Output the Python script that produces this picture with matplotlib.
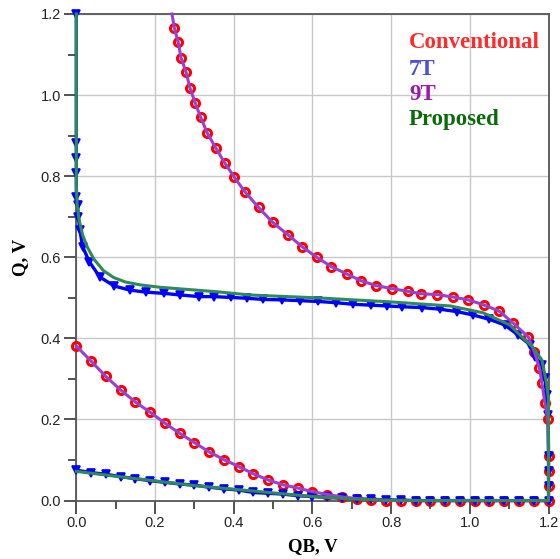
import matplotlib
matplotlib.use("Agg")
import matplotlib.pyplot as plt
from matplotlib.ticker import MultipleLocator

# ---------------- data ----------------
# Conventional (red circles) – butterfly path: lower curve then upper curve
conv_x = [0.0, 0.0375, 0.075, 0.1125, 0.15, 0.1875, 0.225, 0.2625, 0.30, 0.3375,
          0.375, 0.4125, 0.45, 0.4875, 0.525, 0.5625, 0.60, 0.6375, 0.675, 0.7125,
          0.75, 0.7875, 0.825, 0.8625, 0.90, 0.9375, 0.975, 1.0125, 1.05, 1.0875,
          1.125, 1.1625, 1.2,
          1.2, 1.2, 1.2, 1.198,
          1.191, 1.183, 1.177, 1.164, 1.149, 1.111, 1.075, 1.037, 0.996, 0.957,
          0.917, 0.877, 0.842, 0.801, 0.762, 0.724, 0.687, 0.648, 0.611, 0.574,
          0.537, 0.499, 0.463, 0.428, 0.401, 0.377, 0.354, 0.333, 0.316, 0.302,
          0.289, 0.279, 0.266, 0.259, 0.249, 0.243]
conv_y = [0.381, 0.344, 0.306, 0.273, 0.243, 0.218, 0.191, 0.166, 0.143, 0.120,
          0.101, 0.084, 0.066, 0.051, 0.039, 0.031, 0.022, 0.015, 0.009, 0.005,
          0.002, 0.0, 0.0, 0.0, 0.0, 0.0, 0.0, 0.0, 0.0, 0.0,
          0.0, 0.0, 0.0,
          0.037, 0.074, 0.111, 0.200,
          0.240, 0.291, 0.326, 0.367, 0.403, 0.437, 0.467, 0.482, 0.495, 0.502,
          0.508, 0.510, 0.516, 0.523, 0.530, 0.542, 0.559, 0.577, 0.600, 0.626,
          0.656, 0.686, 0.723, 0.762, 0.798, 0.833, 0.870, 0.906, 0.945, 0.981,
          1.017, 1.056, 1.092, 1.130, 1.166, 1.200]

# 9T (purple line) – coincides with the conventional cell
t9_x = list(conv_x)
t9_y = list(conv_y)

# 7T (blue triangles)
t7_x = [0.0, 0.0375, 0.075, 0.1125, 0.15, 0.1875, 0.225, 0.2625, 0.30, 0.3375,
        0.375, 0.4125, 0.45, 0.4875, 0.525, 0.5625, 0.60, 0.6375, 0.675, 0.7125,
        0.75, 0.7875, 0.825, 0.8625, 0.90, 0.9375, 0.975, 1.0125, 1.05, 1.0875,
        1.125, 1.1625, 1.2,
        1.2, 1.2, 1.2,
        1.199, 1.195, 1.191, 1.183, 1.166, 1.153, 1.123, 1.089, 1.050, 1.007,
        0.967, 0.924, 0.878, 0.827, 0.789, 0.748, 0.704, 0.660, 0.615, 0.569,
        0.522, 0.475, 0.433, 0.392, 0.350, 0.313, 0.264, 0.223, 0.177, 0.136,
        0.097, 0.060, 0.033, 0.016, 0.009, 0.005, 0.003, 0.0, 0.0, 0.0,
        0.0, 0.0]
t7_y = [0.075, 0.069, 0.065, 0.059, 0.054, 0.049, 0.045, 0.041, 0.038, 0.033,
        0.029, 0.026, 0.020, 0.018, 0.016, 0.012, 0.010, 0.008, 0.006, 0.004,
        0.003, 0.002, 0.001, 0.0, 0.0, 0.0, 0.0, 0.0, 0.0, 0.0,
        0.0, 0.0, 0.0,
        0.037, 0.074, 0.111,
        0.211, 0.260, 0.302, 0.334, 0.355, 0.384, 0.408, 0.433, 0.447, 0.458,
        0.466, 0.472, 0.476, 0.478, 0.480, 0.482, 0.484, 0.488, 0.491, 0.493,
        0.495, 0.496, 0.499, 0.501, 0.503, 0.503, 0.507, 0.511, 0.514, 0.519,
        0.529, 0.551, 0.589, 0.626, 0.667, 0.700, 0.729, 0.749, 0.809, 0.844,
        0.881, 1.200]

# Proposed (green line)
prop_x = [0.0, 0.1, 0.213, 0.3, 0.4, 0.467, 0.6, 0.7, 0.8, 0.9, 1.2,
          1.2, 1.195, 1.183, 1.160, 1.136, 1.102, 1.034, 0.95, 0.797, 0.611,
          0.441, 0.357, 0.213, 0.162, 0.125, 0.095, 0.069, 0.045, 0.028, 0.016,
          0.007, 0.002, 0.0, 0.0]
prop_y = [0.072, 0.060, 0.047, 0.037, 0.028, 0.022, 0.010, 0.004, 0.001, 0.0, 0.0,
          0.250, 0.290, 0.347, 0.378, 0.400, 0.433, 0.463, 0.480, 0.490, 0.500,
          0.507, 0.515, 0.526, 0.532, 0.539, 0.550, 0.567, 0.595, 0.625, 0.655,
          0.692, 0.730, 0.780, 1.200]

legend_labels = ["Conventional", "7T", "9T", "Proposed"]
legend_colors = ["#ff2a2a", "#4a4fd8", "#9c18b0", "#0b6b0b"]

xticks = [0.0, 0.2, 0.4, 0.6, 0.8, 1.0, 1.2]
yticks = [0.0, 0.2, 0.4, 0.6, 0.8, 1.0, 1.2]

# ---------------- figure ----------------
fig = plt.figure(figsize=(5.60, 5.59), dpi=100)
ax = fig.add_axes([0.1363, 0.1045, 0.8432, 0.8705])

ax.plot(conv_x, conv_y, linestyle="none", marker="o", markersize=5.8,
        markerfacecolor="none", markeredgecolor="#ff0000", markeredgewidth=2.2,
        markevery=list(range(len(conv_x) - 1)), clip_on=False, zorder=3)
ax.plot(t7_x, t7_y, color="#0000ff", linewidth=2.4, marker="v", markersize=5.6,
        markerfacecolor="#0000ff", markeredgecolor="#0000ff", markeredgewidth=1.2,
        clip_on=False, zorder=4)
ax.plot(t9_x, t9_y, color="#9a3fd0", linewidth=2.2, clip_on=False, zorder=5)
ax.plot(prop_x, prop_y, color="#2e8b57", linewidth=2.2, clip_on=False, zorder=6)

ax.set_xlim(0, 1.2)
ax.set_ylim(0, 1.2)
ax.set_xticks(xticks)
ax.set_yticks(yticks)
ax.set_xticklabels([f"{v:.1f}" for v in xticks])
ax.set_yticklabels([f"{v:.1f}" for v in yticks])
ax.xaxis.set_minor_locator(MultipleLocator(0.1))
ax.yaxis.set_minor_locator(MultipleLocator(0.1))
ax.tick_params(which="major", direction="out", length=9, width=1.3,
               color="#444444", labelsize=10.5, labelcolor="#222222", pad=2)
ax.tick_params(which="minor", direction="out", length=5.5, width=1.3,
               color="#444444")
for lab in ax.get_xticklabels() + ax.get_yticklabels():
    lab.set_family("Liberation Sans")

ax.grid(True, which="major", color="#c8c8c8", linewidth=1.0)
ax.set_axisbelow(True)
for sp in ax.spines.values():
    sp.set_color("#555555")
    sp.set_linewidth(1.3)

ax.set_xlabel("QB, V", family="Liberation Serif", fontweight="bold",
              fontsize=13.5, labelpad=6)
ax.set_ylabel("Q, V", family="Liberation Serif", fontweight="bold",
              fontsize=13.5, labelpad=8)

baselines = [0.9295, 0.8746, 0.8233, 0.7719]
for lab, col, yb in zip(legend_labels, legend_colors, baselines):
    ax.text(0.7046, yb, lab, transform=ax.transAxes, color=col,
            family="Liberation Serif", fontweight="bold", fontsize=16.5,
            ha="left", va="baseline", zorder=10)

fig.savefig("out.png", dpi=100)
